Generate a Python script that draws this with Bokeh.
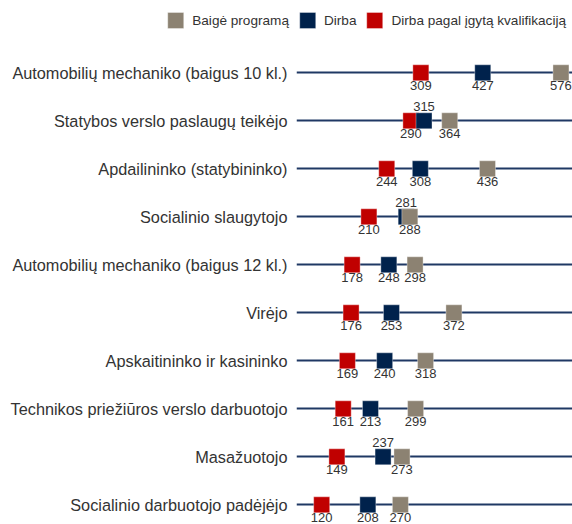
from bokeh.plotting import figure
from bokeh.layouts import column
from bokeh.models import Range1d, FixedTicker, Legend, LegendItem, ColumnDataSource
from bokeh.embed import file_html
from bokeh.resources import INLINE

categories = [
    "Automobilių mechaniko (baigus 10 kl.)",
    "Statybos verslo paslaugų teikėjo",
    "Apdailininko (statybininko)",
    "Socialinio slaugytojo",
    "Automobilių mechaniko (baigus 12 kl.)",
    "Virėjo",
    "Apskaitininko ir kasininko",
    "Technikos priežiūros verslo darbuotojo",
    "Masažuotojo",
    "Socialinio darbuotojo padėjėjo",
]
baige = [576, 364, 436, 288, 298, 372, 318, 299, 273, 270]
dirba = [427, 315, 308, 281, 248, 253, 240, 213, 237, 208]
kval = [309, 290, 244, 210, 178, 176, 169, 161, 149, 120]

series_names = ["Baigė programą", "Dirba", "Dirba pagal įgytą kvalifikaciją"]
series_values = [baige, dirba, kval]
colors = ["#8c8272", "#00224c", "#c00000"]

FONT = "Liberation Sans"
ys = list(range(len(categories)))

# ---- main chart ----
p = figure(width=572, height=484, output_backend="svg", toolbar_location=None,
           x_range=Range1d(72, 598), y_range=Range1d(9.41, -0.673),
           min_border_left=296, min_border_right=0, min_border_top=0, min_border_bottom=0)
p.frame_align = False
p.xaxis.visible = False
p.grid.visible = False
p.outline_line_color = None

yax = p.yaxis[0]
yax.ticker = FixedTicker(ticks=ys)
yax.major_label_overrides = {i: c for i, c in enumerate(categories)}
yax.axis_line_color = None
yax.major_tick_line_color = None
yax.minor_tick_line_color = None
yax.major_tick_out = 0
yax.major_tick_in = 0
yax.major_label_standoff = 9
yax.major_label_text_font = FONT
yax.major_label_text_font_size = "16.3px"
yax.major_label_text_color = "#333333"

p.hspan(y=ys, line_color="#1f3864", line_width=2)

for name, vals, col in [(series_names[2], kval, colors[2]),
                        (series_names[1], dirba, colors[1]),
                        (series_names[0], baige, colors[0])]:
    src = ColumnDataSource(dict(x=vals, y=ys))
    p.rect(x="x", y="y", width=16, height=16, width_units="screen", height_units="screen",
           source=src, fill_color=col, line_color="white", line_alpha=0.35, line_width=1)

# label placement: labels below, except the middle (Dirba) label goes above when crowded
below = {"x": [], "y": [], "t": []}
above = {"x": [], "y": [], "t": []}
for i in ys:
    for vals in (kval, baige):
        below["x"].append(vals[i]); below["y"].append(i); below["t"].append(str(vals[i]))
    gap = min(abs(dirba[i] - kval[i]), abs(baige[i] - dirba[i]))
    tgt = above if gap < 40 else below
    tgt["x"].append(dirba[i]); tgt["y"].append(i); tgt["t"].append(str(dirba[i]))

p.text(x="x", y="y", text="t", source=ColumnDataSource(below), text_align="center",
       text_baseline="top", y_offset=8, text_font_size="13px", text_color="#333333",
       text_font={"value": FONT})
p.text(x="x", y="y", text="t", source=ColumnDataSource(above), text_align="center",
       text_baseline="bottom", y_offset=-10, text_font_size="13px", text_color="#333333",
       text_font={"value": FONT})

# ---- legend strip (own figure so the legend is not clipped by the main frame) ----
lg = figure(width=572, height=40, output_backend="svg", toolbar_location=None,
            x_range=Range1d(-2, -1), y_range=Range1d(-2, -1),
            min_border_left=0, min_border_right=0, min_border_top=0, min_border_bottom=0)
lg.frame_align = False
lg.axis.visible = False
lg.grid.visible = False
lg.outline_line_color = None
items = []
for name, vals, col in zip(series_names, series_values, colors):
    # same series, drawn outside this strip's visible range: only its legend swatch shows
    r = lg.rect(x=vals, y=ys, width=16, height=16, width_units="screen", height_units="screen",
                fill_color=col, line_color="white", line_alpha=0.35, line_width=1)
    items.append(LegendItem(label=name, renderers=[r]))
legend = Legend(items=items, orientation="horizontal", location="right",
                glyph_width=20, glyph_height=20, label_height=20, label_standoff=7, spacing=8,
                padding=0, margin=6, border_line_alpha=0, background_fill_alpha=0,
                label_text_font=FONT, label_text_font_size="13.6px", label_text_color="#333333")
lg.add_layout(legend, "center")

open("out.html", "w").write(file_html(column(lg, p, spacing=0), INLINE))
